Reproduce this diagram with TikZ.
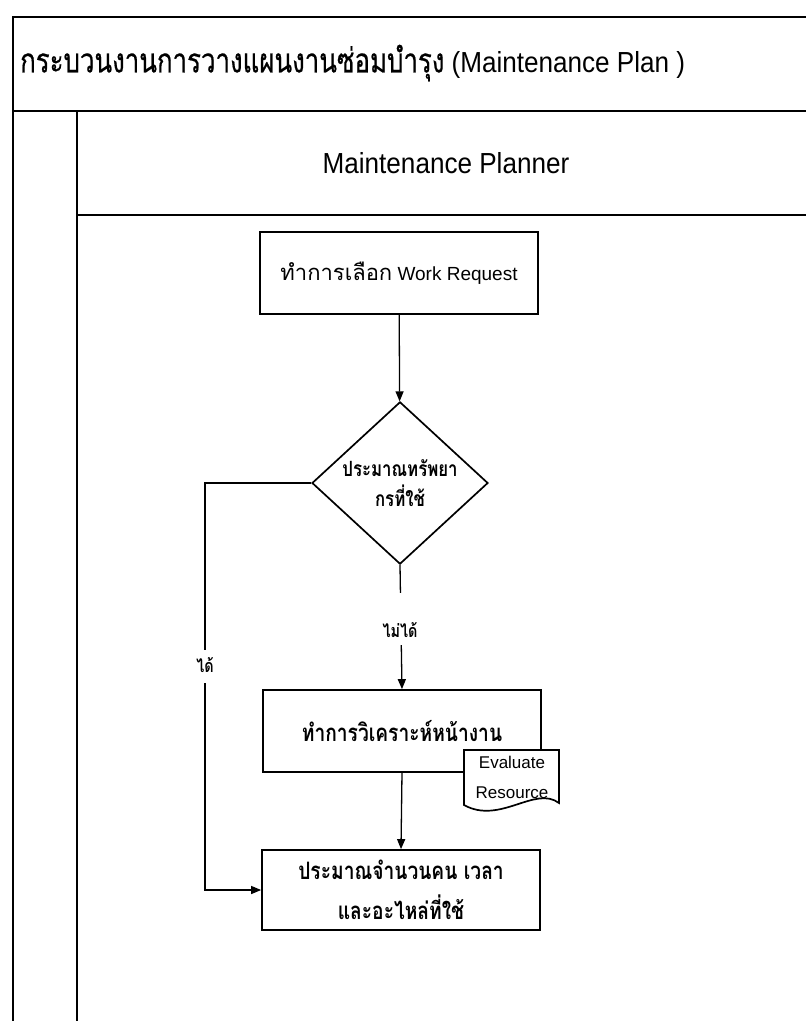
\documentclass[tikz,border=0pt]{standalone}
\usepackage{fontspec}
\setmainfont{Liberation Sans}
\newfontfamily\thaifont[Script=Thai]{Loma}
\newfontfamily\thaibold[Script=Thai,FakeStretch=0.8]{Loma}
\newfontfamily\headfont[FakeStretch=0.9]{Liberation Sans}
\newfontfamily\headthai[Script=Thai,FakeStretch=0.76,FakeBold=0.5]{Loma}
\usetikzlibrary{shapes.geometric,arrows.meta}

\begin{document}
\begin{tikzpicture}[x=1pt,y=-1pt,
  frame/.style={line width=1.9pt},
  stepbox/.style={draw,line width=1.7pt,minimum width=278pt,minimum height=82pt,
    inner sep=0pt,align=center,fill=white},
  decide/.style={draw,diamond,line width=1.7pt,minimum width=176pt,minimum height=162pt,
    inner sep=0pt,align=center},
  flow/.style={line width=1.3pt,-{Triangle[length=10pt,width=8pt]}},
  lbl/.style={fill=white,inner xsep=4pt,inner ysep=0pt,anchor=base,
    font=\thaibold\bfseries\fontsize{18}{20}\selectfont},
  boxtext/.style={font=\fontsize{19}{24}\selectfont},
]
\fill[white] (0,0) rectangle (806,1021);
\useasboundingbox (0,0) rectangle (806,1021);

% pool frame, title row and lane
\draw[frame] (13,1021) -- (13,17) -- (806,17);
\draw[frame] (13,111) -- (806,111);
\draw[frame] (77,111) -- (77,1021);
\draw[frame] (77,215) -- (806,215);

\node[anchor=west,inner sep=0pt] (title) at (20,63)
  {{\headthai\fontsize{34}{38}\selectfont กระบวนงานการวางแผนงานซ่อมบำรุง}%
   {\headfont\fontsize{29}{34}\selectfont\ (Maintenance Plan )}};
\node[inner sep=0pt] (lane) at (446,163)
  {\headfont\fontsize{29}{34}\selectfont Maintenance Planner};

% process steps
\node[stepbox,boxtext] (select) at (399,273)
  {{\thaifont\fontsize{22}{24}\selectfont ทำการเลือก} Work Request};
\node[decide,font=\thaibold\bfseries\fontsize{21}{30}\selectfont] (estimate) at (400,483)
  {ประมาณทรัพยา\\กรที่ใช้};
\node[stepbox,font=\thaibold\bfseries\fontsize{24}{26}\selectfont] (survey) at (402,731)
  {ทำการวิเคราะห์หน้างาน};
\node[stepbox,minimum height=80pt,font=\thaibold\bfseries\fontsize{24}{40}\selectfont] (plan) at (401,890)
  {ประมาณจำนวนคน เวลา\\และอะไหล่ที่ใช้};

% document attached to the survey step
\draw[line width=1.7pt,fill=white] (464,750) -- (559,750) -- (559,803)
  .. controls (535,785) and (500,825) .. (464,805) -- cycle;
\node[align=center,inner sep=0pt,font=\fontsize{17}{30}\selectfont] (doc) at (512,777)
  {Evaluate\\Resource};

% connectors
\coordinate (yesturn) at (205,483);
\draw[flow] (select) -- (estimate);
\draw[flow] (estimate.south) -- (survey.north);
\draw[flow] (estimate.west) -- (yesturn) |- (plan.west);
\draw[flow] (survey.south) -- (plan.north);
\node[lbl,text height=44pt,text depth=8pt] (no) at (400,637) {ไม่ได้};
\node[lbl,text height=22pt,text depth=11pt] (yes) at (205,672) {ได้};
\end{tikzpicture}
\end{document}
